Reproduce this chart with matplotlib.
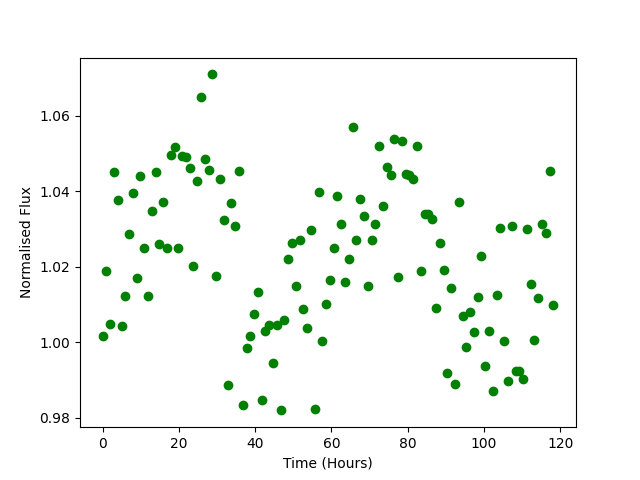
import matplotlib
matplotlib.use("Agg")
import matplotlib.pyplot as plt

# time of each observation, hours since start
time_hours = [
    0.00, 0.99, 1.99, 2.98, 3.97, 4.97, 5.96, 6.95, 7.95, 8.94,
    9.93, 10.93, 11.92, 12.91, 13.90, 14.90, 15.89, 16.88, 17.88, 18.87,
    19.86, 20.86, 21.85, 22.84, 23.84, 24.83, 25.82, 26.82, 27.81, 28.80,
    29.80, 30.79, 31.78, 32.78, 33.77, 34.76, 35.76, 36.75, 37.74, 38.73,
    39.73, 40.72, 41.71, 42.71, 43.70, 44.69, 45.69, 46.68, 47.67, 48.67,
    49.66, 50.65, 51.65, 52.64, 53.63, 54.63, 55.62, 56.61, 57.61, 58.60,
    59.59, 60.59, 61.58, 62.57, 63.56, 64.56, 65.55, 66.54, 67.54, 68.53,
    69.52, 70.52, 71.51, 72.50, 73.50, 74.49, 75.48, 76.48, 77.47, 78.46,
    79.46, 80.45, 81.44, 82.44, 83.43, 84.42, 85.42, 86.41, 87.40, 88.39,
    89.39, 90.38, 91.37, 92.37, 93.36, 94.35, 95.35, 96.34, 97.33, 98.33,
    99.32, 100.31, 101.31, 102.30, 103.29, 104.29, 105.28, 106.27, 107.27, 108.26,
    109.25, 110.25, 111.24, 112.23, 113.22, 114.22, 115.21, 116.20, 117.20, 118.19,
]

normalised_flux = [
    1.0016, 1.0189, 1.0048, 1.0451, 1.0376, 1.0043, 1.0124, 1.0287, 1.0395, 1.0170,
    1.0440, 1.0250, 1.0122, 1.0348, 1.0451, 1.0261, 1.0371, 1.0250, 1.0497, 1.0518,
    1.0250, 1.0493, 1.0491, 1.0461, 1.0202, 1.0427, 1.0650, 1.0486, 1.0456, 1.0710,
    1.0175, 1.0432, 1.0324, 0.9887, 1.0369, 1.0308, 1.0454, 0.9835, 0.9985, 1.0016,
    1.0076, 1.0133, 0.9847, 1.0030, 1.0047, 0.9945, 1.0046, 0.9820, 1.0059, 1.0220,
    1.0263, 1.0150, 1.0272, 1.0089, 1.0038, 1.0297, 0.9823, 1.0398, 1.0003, 1.0101,
    1.0165, 1.0250, 1.0387, 1.0314, 1.0160, 1.0220, 1.0570, 1.0271, 1.0379, 1.0334,
    1.0150, 1.0271, 1.0314, 1.0520, 1.0361, 1.0464, 1.0443, 1.0539, 1.0173, 1.0533,
    1.0446, 1.0443, 1.0432, 1.0521, 1.0189, 1.0341, 1.0341, 1.0326, 1.0091, 1.0263,
    1.0191, 0.9919, 1.0144, 0.9889, 1.0371, 1.0069, 0.9987, 1.0080, 1.0027, 1.0121,
    1.0228, 0.9937, 1.0030, 0.9872, 1.0125, 1.0303, 1.0003, 0.9897, 1.0308, 0.9924,
    0.9924, 0.9903, 1.0300, 1.0154, 1.0006, 1.0118, 1.0314, 1.0289, 1.0454, 1.0099,
]

fig, ax = plt.subplots(figsize=(6.4, 4.8), dpi=100)
ax.plot(time_hours, normalised_flux, "go")
ax.set_xlabel("Time (Hours)")
ax.set_ylabel("Normalised Flux")

fig.savefig("out.png")
